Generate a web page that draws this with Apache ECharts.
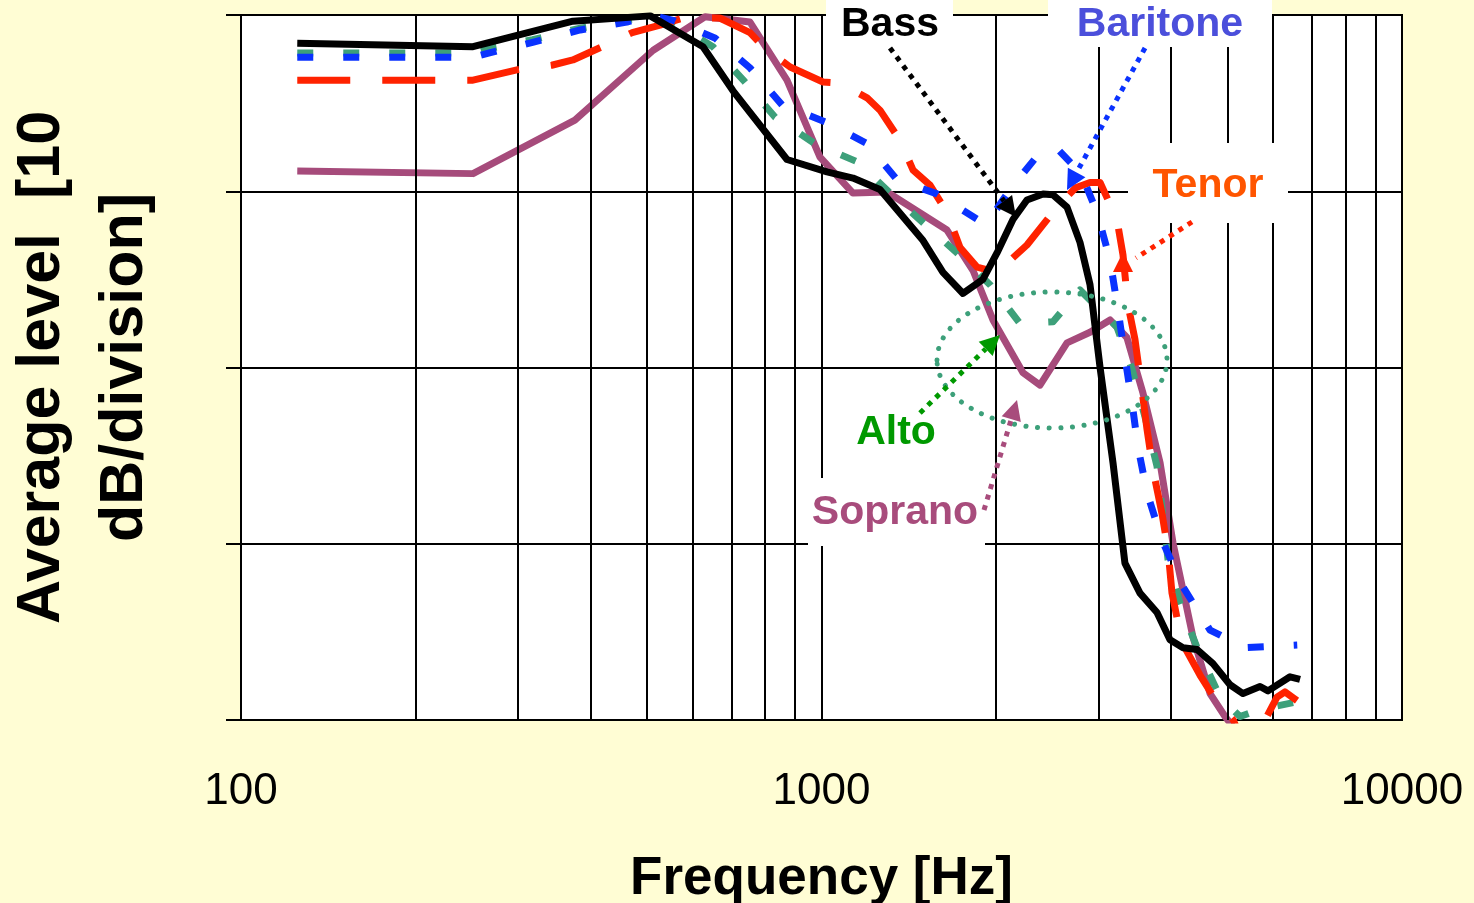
<!DOCTYPE html>
<html><head><meta charset="utf-8">
<script src="https://cdn.jsdelivr.net/npm/echarts@6/dist/echarts.min.js"></script>
<style>html,body{margin:0;padding:0;background:#FFFDD4;}#c{width:1474px;height:903px;}</style>
</head><body><div id="c"></div>
<script>
// Frequency [Hz], average level [dB] (relative, 10 dB per division)
const bass = [[125,-1.6],[251,-1.8],[373,-0.35],[507,-0.05],[625,-1.8],[704,-4.3],[872,-8.2],[1022,-8.9],[1133,-9.25],[1261,-9.9],[1496,-12.8],[1619,-14.6],[1753,-15.8],[1897,-15.0],[2006,-13.5],[2137,-11.6],[2259,-10.5],[2408,-10.15],[2505,-10.2],[2648,-10.9],[2788,-12.9],[2901,-15.3],[3019,-20.0],[3178,-25.4],[3332,-31.1],[3537,-32.8],[3784,-33.9],[3984,-35.45],[4195,-35.9],[4436,-36.0],[4725,-36.8],[5055,-38.0],[5322,-38.5],[5694,-38.1],[5877,-38.35],[6414,-37.55],[6674,-37.7]];
const baritone = [[125,-2.4],[251,-2.4],[268,-2.15],[318,-1.55],[384,-0.85],[462,-0.4],[507,0],[555,-0.3],[655,-1.3],[753,-3.0],[855,-5.1],[1022,-6.1],[1198,-7.3],[1349,-9.35],[1581,-10.15],[1920,-11.9],[2112,-9.9],[2379,-7.8],[2550,-7.6],[2800,-9.0],[2983,-11.2],[3141,-13.9],[3241,-16.7],[3332,-19.4],[3427,-22.0],[3509,-24.5],[3637,-27.1],[3860,-29.8],[4195,-32.45],[4670,-34.9],[5364,-35.9],[6600,-35.75]];
const tenor = [[125,-3.7],[251,-3.7],[300,-3.1],[343,-2.85],[373,-2.55],[419,-1.8],[472,-1.0],[527,-0.57],[577,-0.17],[668,-0.17],[753,-1.0],[799,-1.9],[883,-2.95],[1006,-3.8],[1076,-3.86],[1198,-4.7],[1261,-5.4],[1365,-7.1],[1438,-8.8],[1538,-9.65],[1645,-11.2],[1733,-13.2],[1853,-14.3],[2006,-14.6],[2259,-13.05],[2545,-10.9],[2740,-9.8],[2901,-9.5],[3019,-9.5],[3228,-11.6],[3306,-13.6],[3373,-16.45],[3467,-18.4],[3565,-21.3],[3637,-23.5],[3725,-25.8],[3860,-28.3],[3953,-30.35],[4016,-32.8],[4179,-35.6],[4487,-37.45],[4781,-38.9],[5123,-40.0],[5400,-42.0],[5808,-40.0],[6091,-38.7],[6286,-38.4],[6594,-38.9]];
const alto = [[125,-2.15],[251,-2.15],[268,-1.9],[318,-1.4],[384,-0.75],[462,-0.3],[507,0],[555,-0.4],[650,-1.8],[738,-3.8],[832,-5.8],[974,-7.3],[1156,-8.35],[1312,-10.1],[1712,-13.5],[1951,-15.3],[2197,-17.5],[2505,-17.4],[2788,-15.6],[3228,-17.7],[3427,-20.1],[3608,-22.8],[3784,-25.6],[3953,-30.9],[4146,-33.4],[4436,-35.9],[4859,-38.7],[5259,-39.8],[5694,-39.4],[6754,-38.9],[6889,-38.9]];
const soprano = [[125,-8.85],[251,-9.0],[376,-5.96],[513,-2.0],[630,-0.1],[753,-0.4],[872,-3.7],[994,-8.06],[1133,-10.1],[1297,-10.04],[1645,-12.2],[1824,-14.5],[1974,-17.3],[2224,-20.3],[2379,-21.0],[2648,-18.6],[2901,-18.0],[3141,-17.3],[3358,-18.3],[3579,-21.45],[3830,-25.4],[4032,-29.95],[4365,-35.3],[4670,-38.5],[4956,-39.8],[5150,-40.5]];
const xTickLabels = {100:'100',1000:'1000',10000:'10000'};
const minorFreqs = [200,300,400,500,600,700,800,900,2000,3000,4000,5000,6000,7000,8000,9000];

const FONT = "'Liberation Sans', Arial, Helvetica, sans-serif";
const chart = echarts.init(document.getElementById('c'), null, {renderer:'canvas'});

function lineSeries(name, data, color, width, type, z){
  return {name, type:'line', data, showSymbol:false, symbol:'none', z, clip:true,
    lineStyle:{color, width, type, cap:'butt', join:'round'}, emphasis:{disabled:true}, silent:true};
}
function arrow(x1,y1,x2,y2,color){
  const dx=x2-x1, dy=y2-y1, L=Math.hypot(dx,dy), ux=dx/L, uy=dy/L;
  const hl=20, hw=10, bx=x2-ux*hl, by=y2-uy*hl;
  return [
    {type:'line', z:120, shape:{x1,y1,x2:bx,y2:by}, style:{stroke:color, lineWidth:5, lineDash:[5,6]}},
    {type:'polygon', z:121, shape:{points:[[x2,y2],[bx-uy*hw,by+ux*hw],[bx+uy*hw,by-ux*hw]]}, style:{fill:color}}
  ];
}
function label(text,x,y,color){
  return {type:'text', z:130, x, y, style:{text, fill:color, font:'bold 41px '+FONT, align:'center', verticalAlign:'middle'}};
}
function box(x,y,w,h){ return {type:'rect', z:110, shape:{x,y,width:w,height:h}, style:{fill:'#fff'}}; }

const option = {
  animation:false,
  backgroundColor:'#FFFDD4',
  grid:{left:241, right:72, top:15, bottom:183, show:true, backgroundColor:'#fff', borderColor:'#000', borderWidth:2,
    containLabel:false, outerBoundsMode:'none'},
  xAxis:{type:'log', logBase:10, min:100, max:10000,
    name:'Frequency [Hz]', nameLocation:'middle', nameGap:133,
    nameTextStyle:{fontFamily:FONT, fontSize:53, fontWeight:'bold', color:'#000'},
    axisLine:{show:true, lineStyle:{color:'#000', width:2}},
    axisTick:{show:true, length:17, inside:false, lineStyle:{color:'#000', width:2}},
    axisLabel:{fontFamily:FONT, fontSize:44, color:'#000', margin:50, formatter:v=>xTickLabels[Math.round(v)]||''},
    splitLine:{show:true, lineStyle:{color:'#000', width:2}},
    minorTick:{show:false}, minorSplitLine:{show:false}},
  yAxis:{type:'value', min:-40, max:0, interval:10,
    name:'Average level  [10\ndB/division]', nameLocation:'middle', nameRotate:90, nameGap:74,
    nameTextStyle:{fontFamily:FONT, fontSize:61, fontWeight:'bold', color:'#000', lineHeight:83},
    axisLine:{show:true, lineStyle:{color:'#000', width:2}},
    axisTick:{show:true, length:15, inside:false, lineStyle:{color:'#000', width:2}},
    axisLabel:{show:false},
    splitLine:{show:true, lineStyle:{color:'#000', width:2}}},
  series:[
    {type:'line', data:[], z:1, silent:true,
      markLine:{silent:true, symbol:['none','none'], label:{show:false}, emphasis:{disabled:true},
        lineStyle:{color:'#000', width:2, type:'solid'}, data:minorFreqs.map(f=>({xAxis:f}))}},
    lineSeries('Soprano', soprano, '#A64B7B', 7, 'solid', 3),
    lineSeries('Alto', alto, '#3DA07A', 7, [16,30], 4),
    lineSeries('Tenor', tenor, '#FF2200', 7, [53,32], 5),
    lineSeries('Baritone', baritone, '#0A32FF', 7, [16,30], 6),
    lineSeries('Bass', bass, '#000000', 7, 'solid', 7)
  ],
  graphic:[].concat(
    [box(826,0,127,48), box(1048,0,224,47), box(1128,143,160,80), box(808,478,177,68), box(848,408,95,50)],
    [{type:'ellipse', z:100, shape:{cx:1052, cy:360, rx:115, ry:68}, style:{fill:null, stroke:'#3DA07A', lineWidth:5, lineDash:[0.1,11.5], lineCap:'round'}}],
    arrow(890,48,1016,217,'#000'),
    arrow(1145,48,1067,190,'#0A32FF'),
    [{type:'line', z:120, shape:{x1:1192,y1:222,x2:1136,y2:258}, style:{stroke:'#FF2200', lineWidth:5, lineDash:[5,6]}},
     {type:'polygon', z:121, shape:{points:[[1123,252],[1113,272],[1133,272]]}, style:{fill:'#FF2200'}}],
    arrow(920,413,1000,335,'#009900'),
    arrow(984,510,1017,400,'#A84C7C'),
    [label('Bass',890,25,'#000'), label('Baritone',1160,25,'#4B4FDB'), label('Tenor',1208,186,'#FF5500'),
     label('Alto',896,433,'#009900'), label('Soprano',895,513,'#A84C7C')]
  )
};
chart.setOption(option);
</script></body></html>
